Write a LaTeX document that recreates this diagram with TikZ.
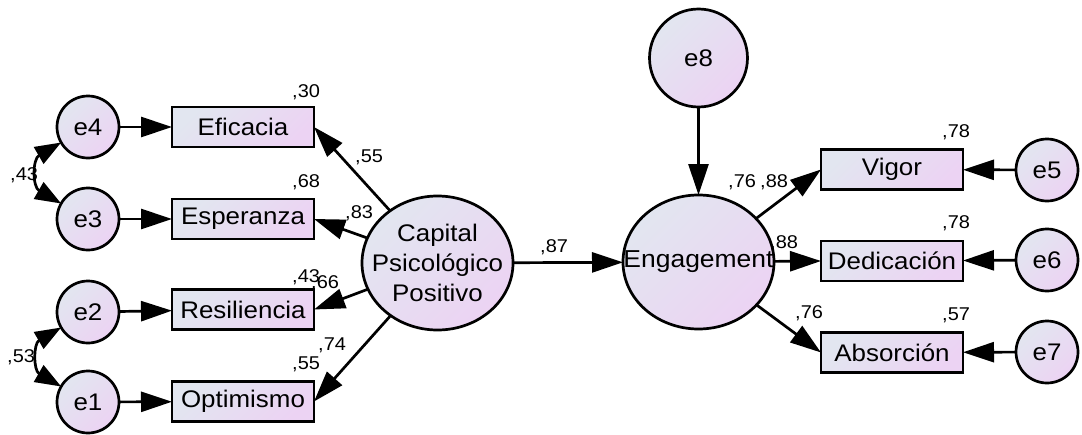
\documentclass[tikz,border=0pt]{standalone}
\usepackage{fontspec}
\setmainfont[FakeStretch=1.08]{Liberation Sans}
\usetikzlibrary{arrows.meta,shapes.geometric}
\definecolor{shadeA}{RGB}{226,230,240}
\definecolor{shadeB}{RGB}{236,211,243}
\tikzset{
  base/.style={draw=black, line width=2.7pt, top color=shadeA, bottom color=shadeB, shading angle=45, inner sep=0pt, outer sep=0pt, font=\fontsize{24}{28}\selectfont},
  obs/.style={base, rectangle, minimum width=142pt, minimum height=40pt},
  err/.style={base, circle, minimum size=62pt},
  lat/.style={base, ellipse, minimum width=151pt, minimum height=134pt},
  coef/.style={anchor=base west, inner sep=0pt, font=\fontsize{18.5}{20}\selectfont},
  arr/.style={line width=2.7pt, -{Triangle[length=31pt,width=20pt]}},
  cov/.style={line width=2.7pt, {Triangle[length=26pt,width=19pt]}-{Triangle[length=26pt,width=19pt]}},
}
\begin{document}
\begin{tikzpicture}[x=1pt,y=-1pt]
\useasboundingbox (0,0) rectangle (1082,434);
% coefficient labels (drawn first, nodes may cover them as in the original)
\node[coef] (l30) at (292,97) {,30};
\node[coef] (l68) at (292,187) {,68};
\node[coef] (l43a) at (10,180) {,43};
\node[coef] (l55a) at (355,162) {,55};
\node[coef] (l83) at (345,218) {,83};
\node[coef] (l87) at (540,252) {,87};
\node[coef] (l43b) at (292,282) {,43};
\node[coef] (l66) at (311,288) {,66};
\node[coef] (l74) at (318,350) {,74};
\node[coef] (l55b) at (292,369) {,55};
\node[coef] (l53) at (7,362) {,53};
\node[coef] (l76a) at (728,187) {,76};
\node[coef] (l88a) at (760,187) {,88};
\node[coef] (l88b) at (770,248) {,88};
\node[coef] (l76b) at (795,318) {,76};
\node[coef] (l78a) at (942,137) {,78};
\node[coef] (l78b) at (942,228) {,78};
\node[coef] (l57) at (942,320) {,57};
% error terms
\node[err] (e4) at (88,127) {e4};
\node[err] (e3) at (88,219) {e3};
\node[err] (e2) at (88,312) {e2};
\node[err] (e1) at (88,402) {e1};
\node[err] (e5) at (1047,170) {e5};
\node[err] (e6) at (1047,260) {e6};
\node[err] (e7) at (1047,352) {e7};
\node[err, minimum size=98pt] (e8) at (698.5,58) {e8};
% observed variables
\node[obs] (efi) at (243,127) {Eficacia};
\node[obs] (esp) at (243,219) {Esperanza};
\node[obs] (res) at (243,309.5) {Resiliencia};
\node[obs] (opt) at (243,401.5) {Optimismo};
\node[obs] (vig) at (892,169.5) {Vigor};
\node[obs] (ded) at (892,261) {Dedicación};
\node[obs] (abs) at (892,352.5) {Absorción};
% latent variables
\node[lat] (cap) at (437.5,263) {};
\node[align=center, inner sep=0pt, font=\fontsize{24}{30}\selectfont] (capt) at (cap) {Capital\\Psicológico\\Positivo};
\node[lat] (eng) at (698.5,262) {};
\node[inner sep=0pt, font=\fontsize{24.5}{28}\selectfont] (engt) at (eng) {Engagement};
% connectors
\draw[arr] (e4) -- (efi);
\draw[arr] (e3) -- (esp);
\draw[arr] (e2) -- (res);
\draw[arr] (e1) -- (opt);
\draw[arr] (e5) -- (vig);
\draw[arr] (e6) -- (ded);
\draw[arr] (e7) -- (abs);
\draw[arr] (e8) -- (eng);
\draw[arr] (cap) -- (efi.east);
\draw[arr] (cap) -- (esp.east);
\draw[arr] (cap) -- (res.east);
\draw[arr] (cap) -- (opt.east);
\draw[arr] (cap) -- (eng);
\draw[arr] (eng) -- (vig.west);
\draw[arr] (eng) -- (ded.west);
\draw[arr] (eng) -- (abs.west);
\draw[cov] (e4.210) to[out=210,in=150,looseness=1.4] (e3.150);
\draw[cov] (e2.210) to[out=210,in=150,looseness=1.4] (e1.150);
\end{tikzpicture}
\end{document}
